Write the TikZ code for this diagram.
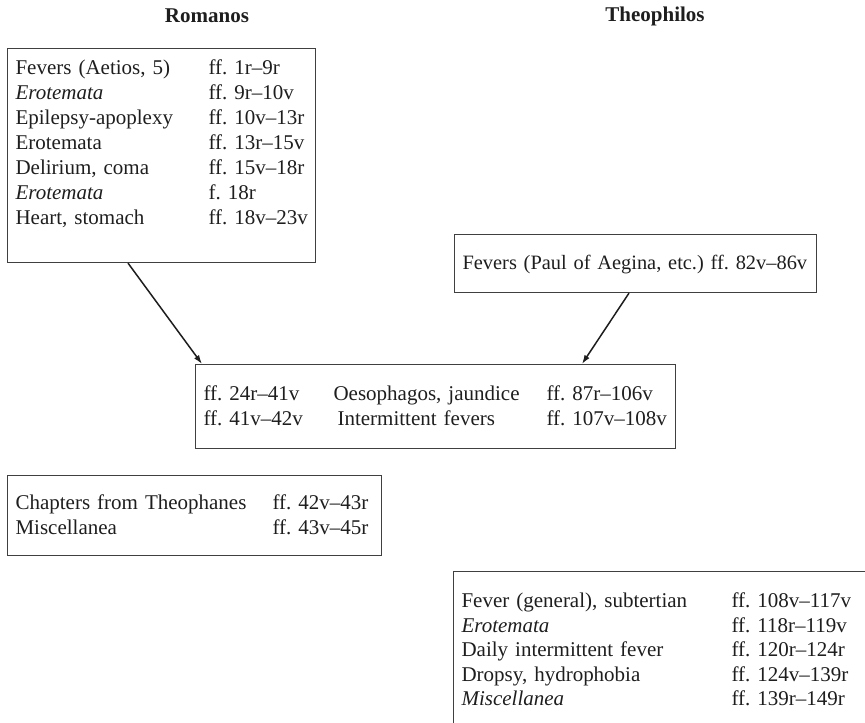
\documentclass[tikz,border=0pt]{standalone}
\usepackage{fontspec}
\setmainfont{Liberation Serif}
\usetikzlibrary{arrows.meta, positioning}
\definecolor{framegray}{RGB}{64, 64, 64}
\definecolor{inkblack}{RGB}{30, 30, 30}

\begin{document}
\frenchspacing
\begin{tikzpicture}[x=1pt, y=-1pt,
  listbox/.style={draw=framegray, line width=1.1pt, anchor=north west, inner xsep=8pt, inner ysep=0pt,
    align=left, text=inkblack, font=\fontsize{21}{25}\selectfont},
  author/.style={text=inkblack, font=\fontsize{21}{25}\selectfont\bfseries},
  flowarrow/.style={draw=inkblack, line width=1.5pt, -{Latex[length=9pt, width=6pt]}}]
  \useasboundingbox (0,0) rectangle (865,723);

  % the two compilers
  \node[author] (romlabel) at (207,16) {Romanos};
  \node[author] (theolabel) at (655,16) {Theophilos};

  % Romanos' own section
  \node[listbox, text width=292pt, text height=26pt, text depth=188pt] (rombox) at (7,48) {
    \begin{tabular}[t]{@{}p{193pt}@{}l@{}}
      Fevers (Aetios, 5) & ff. 1r–9r\\
      \emph{Erotemata} & ff. 9r–10v\\
      Epilepsy-apoplexy & ff. 10v–13r\\
      Erotemata & ff. 13r–15v\\
      Delirium, coma & ff. 15v–18r\\
      \emph{Erotemata} & f. 18r\\
      Heart, stomach & ff. 18v–23v
    \end{tabular}
  };

  % Theophilos' own section
  \node[listbox, font=\fontsize{20.4}{25}\selectfont, text width=346pt, text height=35pt, text depth=23pt] (theobox) at (454,234) {
    \makebox[346pt][l]{Fevers (Paul of Aegina, etc.) ff. 82v–86v}
  };

  % shared section
  \node[listbox, text width=464pt, text height=36pt, text depth=48pt] (midbox) at (195,364) {
    \begin{tabular}[t]{@{}p{130pt}@{}p{213pt}@{}l@{}}
      ff. 24r–41v & Oesophagos, jaundice & ff. 87r–106v\\
      ff. 41v–42v & \hspace{4pt}Intermittent fevers & ff. 107v–108v
    \end{tabular}
  };

  \node[listbox, text width=358pt, text height=34pt, text depth=46pt] (chapbox) at (7,475) {
    \begin{tabular}[t]{@{}p{257pt}@{}l@{}}
      Chapters from Theophanes & ff. 42v–43r\\
      Miscellanea & ff. 43v–45r
    \end{tabular}
  };

  \node[listbox, font=\fontsize{21}{24.5}\selectfont, text width=421pt, text height=36pt, text depth=200pt] (feverbox) at (453,571) {
    \begin{tabular}[t]{@{}p{270pt}@{}l@{}}
      Fever (general), subtertian & ff. 108v–117v\\
      \emph{Erotemata} & ff. 118r–119v\\
      Daily intermittent fever & ff. 120r–124r\\
      Dropsy, hydrophobia & ff. 124v–139r\\
      \emph{Miscellanea} & ff. 139r–149r
    \end{tabular}
  };

  \draw[flowarrow] ([xshift=121pt]rombox.south west) -- ([xshift=7pt]midbox.north west);
  \draw[flowarrow] ([xshift=175pt]theobox.south west) -- ([xshift=387pt]midbox.north west);
\end{tikzpicture}
\end{document}
